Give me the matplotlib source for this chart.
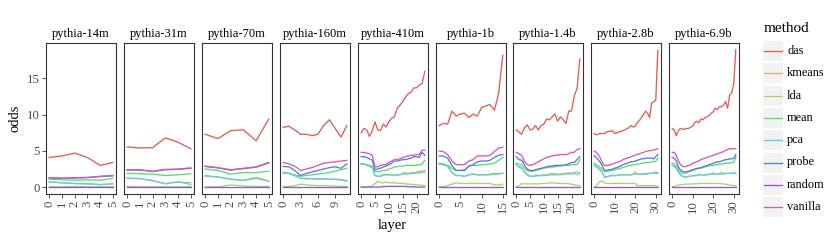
import matplotlib
matplotlib.use("Agg")
import matplotlib.pyplot as plt
from matplotlib.patches import Rectangle
from matplotlib.lines import Line2D

plt.rcParams['font.family'] = ['Liberation Serif', 'DejaVu Serif']

methods = ["das", "kmeans", "lda", "mean", "pca", "probe", "random", "vanilla"]
colors = ["#db5f57", "#dbb757", "#a0db57", "#57db74", "#57d3db", "#577bdb", "#8f57db", "#db57b2"]

models = ["pythia-14m", "pythia-31m", "pythia-70m", "pythia-160m", "pythia-410m",
          "pythia-1b", "pythia-1.4b", "pythia-2.8b", "pythia-6.9b"]
x_breaks = [[0, 1, 2, 3, 4, 5], [0, 1, 2, 3, 4, 5], [0, 1, 2, 3, 4, 5], [0, 3, 6, 9],
            [0, 5, 10, 15, 20], [0, 5, 10, 15], [0, 5, 10, 15, 20], [0, 10, 20, 30], [0, 10, 20, 30]]

pythia_14m = dict(
    das=[4.1, 4.3, 4.7, 4.1, 3.0, 3.4],
    kmeans=[0.7, 0.6, 0.5, 0.45, 0.35, 0.45],
    lda=[0.05, 0.05, 0.1, 0.05, 0.05, 0.05],
    mean=[1.1, 1.0, 0.95, 1.0, 0.95, 1.2],
    pca=[0.73, 0.6, 0.5, 0.45, 0.35, 0.45],
    probe=[1.25, 1.2, 1.25, 1.3, 1.45, 1.55],
    random=[0, 0, 0, 0, 0, 0],
    vanilla=[1.3, 1.25, 1.3, 1.35, 1.5, 1.6],
)
pythia_31m = dict(
    das=[5.55, 5.4, 5.45, 6.8, 6.2, 5.3],
    kmeans=[1.2, 1.15, 0.9, 0.5, 0.7, 0.6],
    lda=[0.1, 0.05, 0.05, 0.05, 0.05, 0.05],
    mean=[1.9, 1.85, 1.8, 1.6, 1.7, 1.85],
    pca=[1.25, 1.2, 0.9, 0.45, 0.75, 0.35],
    probe=[2.35, 2.35, 2.15, 2.4, 2.45, 2.6],
    random=[0, 0, 0, 0, 0, 0],
    vanilla=[2.4, 2.4, 2.2, 2.45, 2.5, 2.65],
)
pythia_70m = dict(
    das=[7.3, 6.7, 7.8, 7.9, 6.4, 9.4],
    kmeans=[1.5, 1.4, 1.1, 0.95, 1.35, 0.85],
    lda=[0.0, 0.05, 0.3, 0.15, 0.1, 0.1],
    mean=[2.5, 2.3, 1.8, 2.0, 2.0, 2.2],
    pca=[1.6, 1.4, 1.1, 0.9, 1.2, 0.8],
    probe=[2.85, 2.65, 2.35, 2.55, 2.75, 3.35],
    random=[0, 0, 0, 0, 0, 0],
    vanilla=[2.9, 2.7, 2.4, 2.6, 2.8, 3.4],
)
pythia_160m = dict(
    das=[8.25, 8.4, 7.9, 7.3, 7.3, 7.1, 7.3, 8.5, 9.3, 8.1, 6.9, 8.5],
    kmeans=[2.0, 1.9, 1.6, 1.2, 1.2, 1.2, 1.15, 1.15, 1.1, 1.1, 1.05, 0.9],
    lda=[0.05, 0.1, 0.2, 0.4, 0.3, 0.25, 0.2, 0.2, 0.15, 0.15, 0.1, 0.1],
    mean=[2.0, 1.9, 1.7, 1.5, 1.6, 1.7, 1.8, 1.9, 2.0, 2.2, 2.4, 2.6],
    pca=[2.0, 1.9, 1.6, 1.2, 1.15, 1.15, 1.1, 1.1, 1.1, 1.05, 1.0, 0.8],
    probe=[2.85, 2.8, 2.3, 1.6, 1.9, 2.1, 2.3, 2.5, 2.7, 2.8, 2.6, 3.2],
    random=[0, 0, 0, 0, 0, 0, 0, 0, 0, 0, 0, 0],
    vanilla=[3.4, 3.2, 2.9, 2.3, 2.5, 2.7, 3.0, 3.3, 3.4, 3.5, 3.6, 3.7],
)
pythia_410m = dict(
    das=[7.5, 8.1, 7.9, 7.0, 7.8, 9.0, 7.9, 7.8, 8.7, 8.3, 9.0, 9.5,
         9.7, 10.9, 11.3, 11.8, 12.4, 12.9, 13.1, 13.7, 13.7, 14.1, 14.3, 16.0],
    kmeans=[3.2, 3.2, 3.0, 2.9, 2.7, 1.6, 1.5, 1.5, 1.7, 1.7, 1.7, 1.7,
            1.6, 1.7, 1.7, 1.9, 2.0, 1.9, 2.0, 2.0, 2.1, 2.2, 2.2, 2.3],
    lda=[0.05, 0.05, 0.05, 0.1, 0.1, 0.5, 0.8, 0.6, 0.6, 0.7, 0.6, 0.6,
         0.6, 0.55, 0.5, 0.5, 0.45, 0.4, 0.4, 0.35, 0.3, 0.3, 0.25, 0.2],
    mean=[3.2, 3.2, 3.1, 3.0, 2.9, 2.2, 2.1, 2.2, 2.3, 2.3, 2.5, 2.6,
          2.8, 2.8, 2.9, 2.9, 3.0, 3.0, 3.0, 3.0, 3.0, 3.1, 3.2, 3.7],
    pca=[3.2, 3.2, 3.0, 2.9, 2.7, 1.6, 1.5, 1.5, 1.7, 1.7, 1.7, 1.7,
         1.6, 1.7, 1.7, 1.8, 1.8, 1.8, 1.9, 1.9, 1.9, 2.0, 2.0, 2.1],
    probe=[4.2, 4.2, 4.1, 3.9, 3.7, 2.4, 2.5, 2.6, 2.8, 2.9, 3.1, 3.3,
           3.6, 3.6, 3.7, 3.8, 3.8, 3.9, 4.0, 4.2, 4.2, 4.1, 4.8, 4.4],
    random=[0, 0, 0, 0, 0, 0, 0, 0.05, 0.05, 0.1, 0.1, 0.1,
            0.1, 0.1, 0.1, 0.1, 0.1, 0.05, 0.05, 0.05, 0, 0, 0, 0],
    vanilla=[4.8, 4.8, 4.7, 4.6, 4.4, 2.8, 2.8, 3.0, 3.1, 3.1, 3.4, 3.6,
             3.8, 3.8, 3.9, 4.1, 4.2, 4.3, 4.4, 4.4, 4.5, 4.5, 5.1, 5.1],
)
pythia_1b = dict(
    das=[8.5, 8.8, 8.7, 10.5, 9.8, 10.1, 10.2, 9.6, 10.1, 9.8, 11.0, 11.2, 11.4, 10.6, 12.9, 18.2],
    kmeans=[3.2, 3.1, 2.9, 2.0, 1.6, 1.6, 1.5, 1.7, 1.8, 1.7, 1.7, 1.7, 1.8, 1.9, 1.9, 1.9],
    lda=[0.05, 0.1, 0.2, 0.4, 0.6, 0.5, 0.5, 0.5, 0.5, 0.5, 0.5, 0.5, 0.5, 0.3, 0.3, 0.4],
    mean=[3.3, 3.2, 3.0, 2.6, 2.3, 2.3, 2.4, 2.9, 3.0, 3.0, 3.1, 3.1, 3.2, 3.3, 3.7, 4.1],
    pca=[3.2, 3.1, 2.9, 2.0, 1.6, 1.6, 1.5, 1.7, 1.8, 1.7, 1.7, 1.7, 1.7, 1.8, 1.8, 1.9],
    probe=[4.3, 4.3, 4.0, 3.0, 2.3, 2.3, 2.3, 2.9, 3.1, 3.5, 3.6, 3.6, 3.7, 4.1, 4.4, 4.5],
    random=[0, 0, 0, 0, 0, 0, 0, 0, 0, 0, 0, 0, 0, 0, 0, 0],
    vanilla=[5.0, 4.9, 4.5, 3.6, 3.1, 3.1, 3.1, 3.6, 3.8, 4.3, 4.3, 4.3, 4.4, 4.9, 5.4, 5.5],
)
pythia_1_4b = dict(
    das=[7.9, 7.6, 7.3, 8.2, 8.6, 7.9, 8.0, 8.5, 7.9, 8.5, 8.7, 9.4,
         9.3, 9.7, 10.1, 9.1, 9.7, 9.3, 8.8, 10.5, 10.5, 12.6, 13.6, 17.7],
    kmeans=[3.1, 2.8, 2.6, 2.1, 1.7, 1.5, 1.5, 1.7, 1.6, 1.6, 1.7, 1.7,
            1.8, 1.9, 1.8, 1.8, 1.8, 1.9, 1.9, 2.0, 1.9, 2.0, 2.1, 2.0],
    lda=[0.05, 0.2, 0.5, 0.45, 0.45, 0.45, 0.45, 0.45, 0.45, 0.5, 0.5, 0.5,
         0.6, 0.6, 0.55, 0.55, 0.5, 0.5, 0.5, 0.45, 0.4, 0.3, 0.25, 0.2],
    mean=[3.3, 3.2, 3.0, 2.6, 2.3, 2.2, 2.2, 2.3, 2.4, 2.5, 2.6, 2.7,
          2.7, 2.8, 2.8, 2.9, 2.9, 3.0, 3.0, 3.0, 3.1, 3.1, 3.1, 3.8],
    pca=[3.1, 2.8, 2.6, 2.1, 1.7, 1.5, 1.5, 1.5, 1.6, 1.6, 1.6, 1.6,
         1.7, 1.7, 1.7, 1.7, 1.7, 1.8, 1.8, 1.8, 1.8, 1.9, 1.7, 1.9],
    probe=[4.2, 3.8, 3.7, 3.0, 2.5, 2.3, 2.3, 2.4, 2.5, 2.6, 2.7, 2.8,
           2.9, 2.9, 3.0, 3.0, 3.0, 3.0, 3.1, 3.2, 3.4, 3.4, 3.8, 4.2],
    random=[0, 0, 0, 0, 0, 0, 0, 0, 0, 0, 0, 0,
            0, 0, 0, 0, 0, 0, 0, 0, 0, 0, 0, 0],
    vanilla=[4.8, 4.6, 4.4, 3.5, 3.1, 3.0, 3.1, 3.3, 3.5, 3.7, 3.9, 4.1,
             4.2, 4.3, 4.4, 4.4, 4.5, 4.5, 4.5, 4.6, 4.8, 4.8, 5.2, 5.3],
)
pythia_2_8b = dict(
    das=[7.4, 7.2, 7.3, 7.4, 7.4, 7.4, 7.6, 7.7, 7.7, 7.8, 7.4, 7.5, 7.6, 7.7, 7.8, 7.9,
         8.1, 8.2, 8.5, 8.3, 8.4, 8.9, 9.2, 9.6, 10.0, 10.5, 10.2, 9.6, 11.6, 11.8, 12.0, 18.9],
    kmeans=[3.0, 2.8, 2.6, 2.3, 2.0, 1.4, 1.4, 1.5, 1.6, 1.6, 1.6, 1.6, 1.7, 1.7, 1.7, 1.7,
            1.7, 1.7, 1.7, 1.8, 2.1, 1.8, 1.8, 1.8, 1.8, 1.9, 1.9, 1.9, 1.9, 2.0, 2.1, 2.0],
    lda=[0.05, 0.1, 0.6, 0.8, 0.8, 0.6, 0.5, 0.5, 0.5, 0.5, 0.5, 0.5, 0.5, 0.5, 0.5, 0.5,
         0.5, 0.5, 0.5, 0.5, 0.5, 0.2, 0.2, 0.2, 0.2, 0.2, 0.2, 0.2, 0.2, 0.2, 0.2, 0.2],
    mean=[3.3, 3.1, 2.9, 2.7, 2.4, 2.2, 2.2, 2.2, 2.3, 2.3, 2.4, 2.5, 2.5, 2.6, 2.7, 2.8,
          2.9, 3.0, 3.0, 3.1, 3.1, 3.2, 3.2, 3.3, 3.3, 3.4, 3.4, 3.4, 3.5, 3.5, 3.6, 4.0],
    pca=[3.0, 2.8, 2.6, 2.3, 2.0, 1.4, 1.4, 1.5, 1.6, 1.6, 1.6, 1.6, 1.7, 1.7, 1.7, 1.7,
         1.7, 1.7, 1.7, 1.8, 1.8, 1.8, 1.8, 1.8, 1.8, 1.8, 1.8, 1.9, 1.9, 1.9, 1.9, 1.9],
    probe=[4.3, 4.1, 3.8, 3.4, 2.9, 2.3, 2.3, 2.4, 2.4, 2.5, 2.6, 2.7, 2.8, 2.9, 3.1, 3.2,
           3.3, 3.4, 3.5, 3.5, 3.6, 3.7, 3.8, 3.9, 3.9, 4.0, 4.0, 4.0, 4.0, 3.9, 4.2, 4.5],
    random=[0, 0, 0, 0, 0, 0, 0, 0, 0, 0, 0, 0, 0, 0, 0, 0,
            0, 0, 0, 0, 0, 0, 0, 0, 0, 0, 0, 0, 0, 0, 0, 0],
    vanilla=[5.0, 4.8, 4.5, 4.0, 3.4, 3.0, 3.0, 3.0, 3.1, 3.2, 3.3, 3.4, 3.5, 3.6, 3.8, 3.9,
             4.0, 4.1, 4.2, 4.3, 4.4, 4.5, 4.6, 4.7, 4.8, 4.9, 5.0, 5.0, 5.1, 5.1, 5.2, 5.3],
)
pythia_6_9b = dict(
    das=[8.1, 7.9, 7.1, 7.8, 8.1, 8.0, 8.0, 8.1, 8.1, 8.3, 8.4, 8.9, 9.1, 8.9, 9.4, 9.3,
         9.6, 9.7, 9.9, 10.2, 10.4, 10.9, 10.7, 11.1, 11.1, 11.3, 11.8, 10.9, 12.7, 13.0, 14.3, 19.0],
    kmeans=[3.0, 2.9, 2.6, 2.1, 1.7, 1.5, 1.4, 1.4, 1.5, 1.5, 1.6, 1.6, 1.6, 1.7, 1.7, 1.7,
            1.7, 1.7, 1.8, 1.8, 2.0, 1.8, 1.8, 1.9, 2.0, 1.9, 1.9, 1.9, 1.9, 1.9, 2.0, 1.9],
    lda=[0.05, 0.1, 0.2, 0.3, 0.3, 0.35, 0.4, 0.4, 0.4, 0.45, 0.45, 0.45, 0.45, 0.5, 0.5, 0.5,
         0.5, 0.5, 0.5, 0.5, 0.5, 0.5, 0.5, 0.5, 0.45, 0.45, 0.4, 0.35, 0.3, 0.25, 0.2, 0.2],
    mean=[3.3, 3.2, 2.9, 2.4, 2.1, 1.9, 1.9, 2.0, 2.1, 2.2, 2.3, 2.4, 2.5, 2.6, 2.6, 2.7,
          2.8, 2.9, 2.9, 3.0, 3.0, 3.1, 3.1, 3.2, 3.2, 3.2, 3.3, 3.3, 3.3, 3.4, 3.4, 4.1],
    pca=[3.0, 2.9, 2.6, 2.1, 1.7, 1.5, 1.4, 1.4, 1.5, 1.5, 1.6, 1.6, 1.6, 1.7, 1.7, 1.7,
         1.7, 1.7, 1.8, 1.8, 1.8, 1.8, 1.8, 1.8, 1.8, 1.8, 1.9, 1.9, 1.9, 1.9, 1.9, 1.9],
    probe=[4.1, 4.0, 3.6, 2.8, 2.4, 2.2, 2.1, 2.1, 2.2, 2.3, 2.4, 2.5, 2.6, 2.6, 2.7, 2.8,
           2.9, 3.0, 3.1, 3.2, 3.3, 3.4, 3.5, 3.5, 3.6, 3.7, 3.8, 3.8, 3.9, 3.9, 4.0, 4.5],
    random=[0, 0, 0, 0, 0, 0, 0, 0, 0, 0, 0, 0, 0, 0, 0, 0,
            0, 0, 0, 0, 0, 0, 0, 0, 0, 0, 0, 0, 0, 0, 0, 0],
    vanilla=[4.8, 4.8, 4.4, 3.6, 3.1, 2.9, 2.8, 2.9, 3.0, 3.1, 3.3, 3.4, 3.5, 3.6, 3.8, 3.9,
             4.0, 4.1, 4.2, 4.3, 4.4, 4.5, 4.6, 4.7, 4.8, 4.9, 5.1, 5.2, 5.3, 5.3, 5.3, 5.3],
)
model_data = [pythia_14m, pythia_31m, pythia_70m, pythia_160m, pythia_410m,
              pythia_1b, pythia_1_4b, pythia_2_8b, pythia_6_9b]

W, H = 830, 249
fig = plt.figure(figsize=(W / 100, H / 100), dpi=100)

panel_left = [46, 124, 202, 280, 358, 436, 513, 591, 669]
panel_w = 70
panel_top, panel_bot = 43, 194
ylim = (-0.95, 19.9)
dark = "#333333"
tick_col = "#4d4d4d"

for i, (name, data) in enumerate(zip(models, model_data)):
    ax = fig.add_axes([panel_left[i] / W, 1 - panel_bot / H, panel_w / W, (panel_bot - panel_top) / H])
    n = len(data["das"])
    layers = list(range(n))
    for m, c in zip(methods, colors):
        ax.plot(layers, data[m], color=c, lw=0.95, solid_joinstyle="round")
    pad = 0.05 * (n - 1)
    ax.set_xlim(-pad, n - 1 + pad)
    ax.set_ylim(*ylim)
    ax.set_xticks(x_breaks[i])
    ax.set_xticklabels([str(b) for b in x_breaks[i]], rotation=90, fontsize=9.2, color=tick_col)
    if i == 0:
        ax.set_yticks([0, 5, 10, 15])
        ax.set_yticklabels(["0", "5", "10", "15"], fontsize=9.2, color=tick_col)
        ax.set_ylabel("odds", fontsize=10.5, labelpad=4)
    else:
        ax.set_yticks([])
    ax.tick_params(direction="out", length=3, width=0.6, color=dark, pad=1.5)
    for s in ax.spines.values():
        s.set_color(dark)
        s.set_linewidth(0.8)
    ax.set_title(name, fontsize=9, pad=4)

fig.text((panel_left[0] + panel_left[-1] + panel_w) / 2 / W, 1 - 225 / H, "layer",
         ha="center", va="center", fontsize=10.5)

# legend
fig.text(764 / W, 1 - 29 / H, "method", ha="left", va="center", fontsize=11)
key_x, key_w, key_h, pitch = 763, 20, 20, 22.3
for j, (m, c) in enumerate(zip(methods, colors)):
    top = 41 + j * pitch
    fig.patches.append(Rectangle((key_x / W, 1 - (top + key_h) / H), key_w / W, key_h / H,
                                 transform=fig.transFigure, facecolor="#f2f2f2", edgecolor="none"))
    yc = 1 - (top + key_h / 2) / H
    fig.lines.append(Line2D([(key_x + 1) / W, (key_x + key_w - 1) / W], [yc, yc],
                            transform=fig.transFigure, color=c, lw=0.95))
    fig.text((key_x + key_w + 4) / W, yc, m, ha="left", va="center", fontsize=8.8)

fig.savefig("out.png", dpi=100)
